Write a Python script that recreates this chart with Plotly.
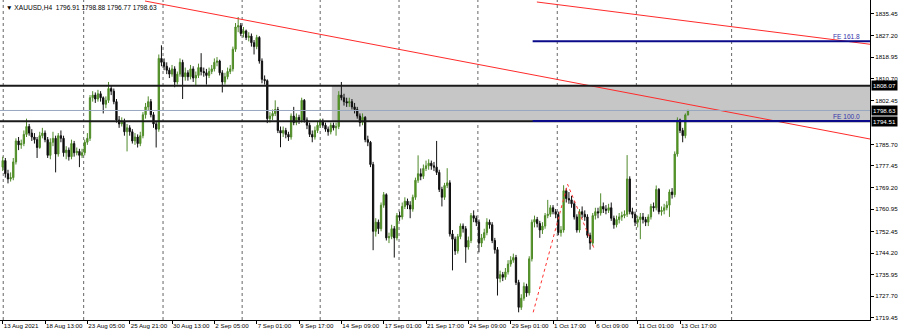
import plotly.graph_objects as go

# ---------------- data ----------------
opens = [1777.0,1779.5,1774.5,1772.5,1773.0,1779.0,1787.0,1785.5,1786.0,1789.5,
1792.5,1790.0,1788.5,1787.5,1784.5,1789.0,1790.0,1787.5,1781.5,1786.5,
1788.0,1782.0,1789.0,1788.0,1782.5,1783.5,1781.0,1786.0,1782.5,1783.0,
1781.5,1782.5,1786.5,1788.0,1803.5,1804.5,1803.0,1805.0,1803.5,1801.0,
1802.5,1807.0,1806.0,1802.0,1795.0,1793.5,1794.5,1790.5,1792.0,1790.5,
1787.0,1788.5,1786.0,1789.0,1797.0,1800.0,1802.0,1797.0,1793.5,1791.5,
1818.5,1817.0,1815.5,1814.0,1812.5,1814.5,1809.5,1812.5,1817.0,1811.5,
1813.0,1811.5,1814.5,1811.0,1812.0,1815.0,1813.5,1813.0,1812.0,1813.5,
1814.5,1817.0,1817.5,1813.0,1809.5,1811.5,1813.5,1814.5,1822.0,1830.5,
1831.0,1828.0,1829.0,1826.5,1827.0,1824.5,1823.0,1826.5,1817.5,1810.5,
1810.0,1795.5,1796.5,1797.5,1799.0,1791.0,1790.0,1791.0,1789.5,1788.5,
1796.5,1794.0,1796.0,1795.0,1802.5,1795.0,1793.0,1789.5,1788.5,1791.0,
1793.0,1794.5,1793.0,1791.5,1790.5,1793.0,1792.0,1792.5,1804.5,1803.5,
1802.0,1801.5,1802.0,1800.0,1799.0,1796.5,1794.0,1796.0,1787.5,1786.5,
1778.0,1752.5,1756.0,1753.5,1762.5,1766.5,1750.0,1750.5,1753.5,1750.0,
1758.5,1758.0,1762.0,1764.0,1762.5,1761.0,1765.5,1772.0,1774.5,1773.5,
1776.5,1777.5,1778.5,1777.5,1777.0,1775.0,1768.5,1765.5,1770.0,1771.0,
1751.5,1749.5,1745.0,1750.5,1754.5,1753.5,1746.5,1749.0,1758.5,1757.5,
1756.0,1748.0,1750.0,1752.0,1756.0,1755.0,1749.0,1745.5,1734.5,1736.0,
1735.0,1737.0,1740.0,1741.5,1742.5,1733.0,1723.5,1727.0,1731.5,1729.0,
1742.0,1756.0,1757.0,1755.5,1753.0,1754.5,1758.5,1759.0,1761.5,1760.0,
1759.0,1752.0,1753.0,1768.0,1765.0,1764.5,1763.0,1758.0,1753.0,1760.0,
1759.0,1758.0,1751.0,1748.0,1758.5,1760.0,1759.5,1762.0,1761.0,1760.5,
1761.5,1757.5,1755.0,1757.0,1758.0,1758.5,1759.0,1772.5,1760.0,1759.0,
1756.0,1757.0,1758.0,1757.0,1756.0,1758.0,1762.0,1761.5,1768.5,1760.0,
1760.5,1761.5,1762.5,1767.5,1766.5,1782.0,1795.0,1791.0,1789.0,1796.91]

highs = [1781.0,1780.5,1776.0,1775.0,1780.5,1788.0,1788.5,1787.5,1791.0,1795.5,
1793.5,1791.5,1790.0,1788.5,1790.5,1792.0,1791.0,1788.5,1788.0,1790.5,
1789.0,1790.0,1791.0,1789.0,1785.0,1784.5,1787.5,1787.0,1784.5,1784.0,
1784.0,1787.5,1790.0,1804.5,1806.0,1805.5,1806.5,1806.0,1804.0,1804.0,
1809.5,1808.0,1807.0,1803.0,1796.5,1796.0,1795.5,1793.5,1793.0,1791.5,
1790.0,1789.5,1790.5,1798.0,1801.5,1804.0,1803.0,1798.0,1794.5,1820.0,
1823.5,1818.5,1817.0,1815.0,1816.0,1815.5,1813.5,1818.5,1818.0,1815.0,
1814.0,1816.0,1815.5,1813.5,1816.5,1820.5,1815.0,1814.5,1815.0,1816.0,
1818.5,1819.0,1818.0,1814.0,1813.0,1815.0,1816.0,1823.0,1832.0,1834.3,
1832.0,1830.5,1829.5,1828.5,1828.0,1825.5,1827.5,1827.0,1818.5,1812.0,
1810.5,1798.0,1799.0,1802.5,1800.0,1792.5,1792.5,1792.0,1790.5,1797.5,
1800.0,1797.5,1797.0,1803.5,1803.0,1796.0,1794.0,1791.0,1792.5,1794.5,
1795.5,1795.5,1794.0,1792.5,1794.0,1794.0,1794.0,1806.0,1809.5,1805.0,
1803.5,1803.5,1803.0,1801.5,1800.0,1797.5,1797.5,1796.5,1789.0,1787.0,
1779.0,1757.5,1757.0,1763.5,1767.5,1767.0,1752.0,1755.0,1754.5,1759.5,
1760.0,1763.5,1765.5,1765.0,1764.0,1766.5,1773.0,1781.5,1776.5,1778.0,
1779.5,1780.0,1779.5,1779.0,1787.0,1776.0,1769.5,1771.0,1776.6,1772.0,
1753.0,1750.5,1751.5,1755.5,1755.5,1754.5,1750.5,1759.5,1760.5,1758.5,
1757.0,1751.5,1753.5,1757.5,1757.0,1756.0,1750.0,1746.5,1737.5,1737.0,
1738.5,1741.5,1743.0,1744.0,1743.5,1734.0,1728.5,1733.0,1732.5,1743.0,
1757.0,1758.5,1758.0,1756.5,1756.0,1759.5,1764.5,1762.5,1762.5,1761.0,
1760.0,1754.5,1770.1,1769.0,1767.5,1766.0,1764.0,1759.0,1761.0,1762.0,
1760.5,1759.0,1752.0,1759.5,1761.5,1761.5,1767.0,1763.5,1762.5,1763.0,
1763.5,1758.5,1758.5,1759.5,1760.0,1760.5,1781.6,1773.5,1761.5,1760.0,
1758.5,1759.5,1759.5,1758.0,1759.0,1763.0,1763.5,1770.0,1769.0,1762.0,
1763.0,1764.0,1768.5,1769.0,1783.0,1796.0,1795.5,1792.0,1797.5,1798.88]

lows = [1775.5,1773.0,1770.8,1771.5,1772.0,1778.0,1783.5,1784.0,1785.0,1788.5,
1789.0,1787.0,1786.0,1780.5,1784.0,1788.0,1786.5,1780.5,1780.0,1785.0,
1775.0,1781.0,1786.5,1781.0,1780.0,1779.5,1780.0,1781.0,1781.5,1777.0,
1780.5,1781.5,1785.5,1787.0,1802.0,1801.5,1802.0,1802.0,1797.5,1799.5,
1801.5,1804.5,1801.0,1794.0,1792.0,1792.5,1789.0,1783.0,1789.0,1786.0,
1785.5,1784.5,1785.0,1788.0,1795.5,1798.5,1796.0,1792.0,1784.5,1790.5,
1815.5,1814.0,1812.5,1811.0,1811.5,1807.5,1808.5,1811.5,1803.0,1810.0,
1810.0,1810.5,1809.5,1808.0,1811.0,1812.0,1811.5,1808.5,1811.0,1812.5,
1813.5,1815.5,1812.0,1805.5,1808.5,1810.5,1812.5,1813.5,1821.0,1828.5,
1827.0,1826.5,1825.5,1825.0,1823.0,1820.0,1822.0,1816.5,1809.0,1808.5,
1793.8,1794.0,1795.0,1796.5,1790.0,1784.6,1788.5,1788.0,1787.0,1787.5,
1793.0,1793.0,1793.5,1794.0,1794.0,1791.5,1788.5,1786.5,1787.5,1790.0,
1792.0,1792.0,1790.5,1789.0,1789.5,1791.0,1789.0,1791.5,1802.5,1800.5,
1800.0,1800.0,1799.0,1797.5,1795.5,1792.5,1793.0,1786.5,1785.0,1777.0,
1745.3,1750.5,1751.5,1752.5,1761.5,1749.0,1748.0,1749.5,1742.5,1749.0,
1756.5,1757.0,1761.0,1761.0,1757.5,1760.0,1764.5,1771.0,1772.0,1772.5,
1775.5,1776.0,1776.0,1775.5,1774.0,1767.5,1762.0,1764.5,1769.0,1750.5,
1737.6,1743.5,1744.0,1749.5,1752.0,1740.5,1745.5,1748.0,1756.0,1754.5,
1744.5,1746.5,1749.0,1751.0,1753.5,1748.0,1744.0,1728.0,1733.0,1733.5,
1734.0,1736.0,1739.0,1740.5,1732.0,1721.6,1722.5,1726.0,1727.5,1728.0,
1741.0,1754.0,1754.0,1750.0,1751.5,1753.5,1757.5,1758.0,1759.0,1757.5,
1751.0,1750.5,1752.0,1763.5,1763.0,1761.5,1757.0,1752.0,1752.0,1757.5,
1756.5,1750.0,1745.5,1747.0,1757.0,1757.5,1758.5,1759.5,1759.0,1759.5,
1756.5,1753.5,1754.0,1755.5,1756.5,1757.5,1758.0,1759.0,1757.5,1754.5,
1754.0,1749.5,1755.5,1754.5,1754.5,1757.0,1760.0,1760.5,1759.0,1758.5,
1759.0,1760.5,1758.0,1765.0,1765.5,1781.0,1790.0,1786.5,1788.0,1796.77]

closes = [1779.5,1774.5,1772.5,1773.0,1779.0,1787.0,1785.5,1786.0,1789.5,1792.5,
1790.0,1788.5,1787.5,1784.5,1789.0,1790.0,1787.5,1781.5,1786.5,1788.0,
1782.0,1789.0,1788.0,1782.5,1783.5,1781.0,1786.0,1782.5,1783.0,1781.5,
1782.5,1786.5,1788.0,1803.5,1804.5,1803.0,1805.0,1803.5,1801.0,1802.5,
1807.0,1806.0,1802.0,1795.0,1793.5,1794.5,1790.5,1792.0,1790.5,1787.0,
1788.5,1786.0,1789.0,1797.0,1800.0,1802.0,1797.0,1793.5,1791.5,1818.5,
1817.0,1815.5,1814.0,1812.5,1814.5,1809.5,1812.5,1817.0,1811.5,1813.0,
1811.5,1814.5,1811.0,1812.0,1815.0,1813.5,1813.0,1812.0,1813.5,1814.5,
1817.0,1817.5,1813.0,1809.5,1811.5,1813.5,1814.5,1822.0,1830.5,1831.0,
1828.0,1829.0,1826.5,1827.0,1824.5,1823.0,1826.5,1817.5,1810.5,1810.0,
1795.5,1796.5,1797.5,1799.0,1791.0,1790.0,1791.0,1789.5,1788.5,1796.5,
1794.0,1796.0,1795.0,1802.5,1795.0,1793.0,1789.5,1788.5,1791.0,1793.0,
1794.5,1793.0,1791.5,1790.5,1793.0,1792.0,1792.5,1804.5,1803.5,1802.0,
1801.5,1802.0,1800.0,1799.0,1796.5,1794.0,1796.0,1787.5,1786.5,1778.0,
1752.5,1756.0,1753.5,1762.5,1766.5,1750.0,1750.5,1753.5,1750.0,1758.5,
1758.0,1762.0,1764.0,1762.5,1761.0,1765.5,1772.0,1774.5,1773.5,1776.5,
1777.5,1778.5,1777.5,1777.0,1775.0,1768.5,1765.5,1770.0,1771.0,1751.5,
1749.5,1745.0,1750.5,1754.5,1753.5,1746.5,1749.0,1758.5,1757.5,1756.0,
1748.0,1750.0,1752.0,1756.0,1755.0,1749.0,1745.5,1734.5,1736.0,1735.0,
1737.0,1740.0,1741.5,1742.5,1733.0,1723.5,1727.0,1731.5,1729.0,1742.0,
1756.0,1757.0,1755.5,1753.0,1754.5,1758.5,1759.0,1761.5,1760.0,1759.0,
1752.0,1753.0,1768.0,1765.0,1764.5,1763.0,1758.0,1753.0,1760.0,1759.0,
1758.0,1751.0,1748.0,1758.5,1760.0,1759.5,1762.0,1761.0,1760.5,1761.5,
1757.5,1755.0,1757.0,1758.0,1758.5,1759.0,1772.5,1760.0,1759.0,1756.0,
1757.0,1758.0,1757.0,1756.0,1758.0,1762.0,1761.5,1768.5,1760.0,1760.5,
1761.5,1762.5,1767.5,1766.5,1782.0,1795.0,1791.0,1789.0,1796.91,1798.63]

time_labels = ["13 Aug 2021", "18 Aug 13:00", "23 Aug 05:00", "25 Aug 21:00",
               "30 Aug 13:00", "2 Sep 05:00", "7 Sep 01:00", "9 Sep 17:00",
               "14 Sep 09:00", "17 Sep 01:00", "21 Sep 17:00", "24 Sep 09:00",
               "29 Sep 01:00", "1 Oct 17:00", "6 Oct 09:00", "11 Oct 01:00",
               "13 Oct 17:00"]
bars_per_label = 16

price_ticks = [1835.45, 1827.20, 1818.95, 1810.70, 1802.45, 1785.70, 1777.45,
               1769.20, 1760.95, 1752.45, 1744.20, 1735.95, 1727.70, 1719.45]

# chart objects (bar index, price)
level_top = 1808.07
level_bottom = 1794.51
bid_price = 1798.63
zone_start = 124.4
fe100 = 1794.6
fe1618 = 1825.0
fe_start = 200.3
trend1_x = [53.8, 327.8]
trend1_y = [1840.41, 1787.74]
trend2_x = [201.9, 327.8]
trend2_y = [1840.03, 1823.9]
fibo_x = [200.5, 213.5, 223.6]
fibo_y = [1721.6, 1770.45, 1745.75]
grid_bars = [0.2, 30.6, 60.6, 90.5, 120.0, 149.8, 179.6, 209.6, 239.5, 275.5]

header = "\u25bc XAUUSD,H4  1796.91 1798.88 1796.77 1798.63"

# ---------------- figure ----------------
X_MIN, X_MAX = -1.02, 327.8
Y_MIN, Y_MAX = 1718.66, 1840.79
FONT = "Liberation Sans"
FS = 6.2
idx = list(range(len(closes)))

fig = go.Figure()
fig.add_trace(go.Candlestick(
    x=idx, open=opens, high=highs, low=lows, close=closes,
    increasing=dict(line=dict(color="#4f8a2a", width=1), fillcolor="#52a012"),
    decreasing=dict(line=dict(color="#111111", width=1), fillcolor="#000000"),
    whiskerwidth=0, showlegend=False, hoverinfo="skip"))

fig.add_trace(go.Scatter(x=trend1_x, y=trend1_y, mode="lines",
                         line=dict(color="#ff2a2a", width=1), showlegend=False, hoverinfo="skip"))
fig.add_trace(go.Scatter(x=trend2_x, y=trend2_y, mode="lines",
                         line=dict(color="#ff2a2a", width=1), showlegend=False, hoverinfo="skip"))
fig.add_trace(go.Scatter(x=fibo_x, y=fibo_y, mode="lines",
                         line=dict(color="#ff3030", width=1, dash="dot"), showlegend=False, hoverinfo="skip"))

shapes = []
for g in grid_bars:
    shapes.append(dict(type="line", xref="x", yref="paper", x0=g, x1=g, y0=0, y1=1,
                       line=dict(color="#666666", width=1, dash="dot"), layer="below"))
shapes.append(dict(type="rect", xref="x", yref="y", x0=zone_start, x1=X_MAX,
                   y0=level_bottom, y1=level_top, fillcolor="#c6c6c6",
                   line=dict(width=0), layer="below"))
shapes.append(dict(type="line", xref="paper", yref="y", x0=0, x1=1, y0=bid_price, y1=bid_price,
                   line=dict(color="#98a6bf", width=1)))
shapes.append(dict(type="line", xref="paper", yref="y", x0=0, x1=1, y0=level_top, y1=level_top,
                   line=dict(color="#1a1a1a", width=2)))
shapes.append(dict(type="line", xref="paper", yref="y", x0=0, x1=1, y0=level_bottom, y1=level_bottom,
                   line=dict(color="#1a1a1a", width=2)))
shapes.append(dict(type="line", xref="x", yref="y", x0=fe_start, x1=X_MAX, y0=fe100, y1=fe100,
                   line=dict(color="#0a0a8a", width=2)))
shapes.append(dict(type="line", xref="x", yref="y", x0=fe_start, x1=X_MAX, y0=fe1618, y1=fe1618,
                   line=dict(color="#0a0a8a", width=2)))

annotations = [
    dict(text=header, xref="paper", yref="paper", x=0, y=1, xanchor="left", yanchor="top",
         xshift=4, yshift=-2, showarrow=False, font=dict(family=FONT, size=6.6, color="#000")),
    dict(text="FE 161.8", xref="paper", yref="y", x=1, y=fe1618, xanchor="right", yanchor="bottom",
         xshift=-8, yshift=-1, showarrow=False, font=dict(family=FONT, size=6.6, color="#3333aa")),
    dict(text="FE 100.0", xref="paper", yref="y", x=1, y=fe100, xanchor="right", yanchor="bottom",
         xshift=-8, yshift=-1, showarrow=False, font=dict(family=FONT, size=6.6, color="#3333aa")),
]
for p in [level_top, bid_price, level_bottom]:
    annotations.append(dict(text=f"{p:.2f}", xref="paper", yref="y", x=1, y=p,
                            xanchor="left", yanchor="middle", xshift=1, showarrow=False,
                            bgcolor="#000000", borderpad=1,
                            font=dict(family=FONT, size=FS, color="#ffffff")))

fig.update_layout(
    width=900, height=334,
    margin=dict(l=0, r=30, t=0, b=14),
    paper_bgcolor="white", plot_bgcolor="white",
    shapes=shapes, annotations=annotations,
    xaxis=dict(range=[X_MIN, X_MAX], rangeslider=dict(visible=False), automargin=False,
               tickvals=[i * bars_per_label for i in range(len(time_labels))],
               ticktext=time_labels, ticklabelposition="outside right", tickangle=0,
               ticks="outside", ticklen=3, tickcolor="#000",
               showgrid=False, zeroline=False, showline=True, linecolor="#000", linewidth=1,
               tickfont=dict(family=FONT, size=FS, color="#000")),
    yaxis=dict(range=[Y_MIN, Y_MAX], side="right", automargin=False,
               tickvals=price_ticks, ticktext=[f"{v:.2f}" for v in price_ticks],
               ticks="outside", ticklen=3, tickcolor="#000",
               showgrid=False, zeroline=False, showline=True, linecolor="#000", linewidth=1,
               tickfont=dict(family=FONT, size=FS, color="#000")),
)

fig.write_html("out.html")
